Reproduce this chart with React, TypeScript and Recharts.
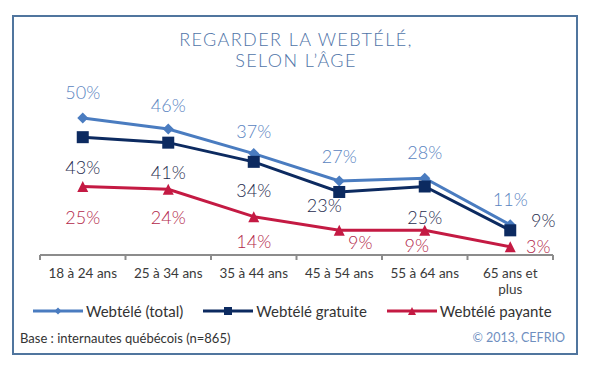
import { LineChart, Line, XAxis, YAxis, LabelList } from 'recharts'

const ageGroups = ['18 à 24 ans', '25 à 34 ans', '35 à 44 ans', '45 à 54 ans', '55 à 64 ans', '65 ans et\nplus']
const webteleTotal = [50, 46, 37, 27, 28, 11]
const webteleGratuite = [43, 41, 34, 23, 25, 9]
const webtelePayante = [25, 24, 14, 9, 9, 3]
const seriesNames = ['Webtélé (total)', 'Webtélé gratuite', 'Webtélé payante']

// where each value label sits relative to its point
const totalLabelShift = [[0, -26], [0, -24], [0, -23], [0, -25], [0, -26], [0, -26]]
const gratuiteLabelShift = [[0, 30], [0, 29], [0, 28], [-15, 13], [0, 30], [33, -10]]
const payanteLabelShift = [[0, 30], [0, 28], [0, 24], [21, 12], [-8, 15], [28, -1]]

const FONT = 'Lato, "Open Sans", sans-serif'
const colors = { total: '#4a7cc0', gratuite: '#0c2a60', payante: '#c41a43' }
const labelColors = { total: '#5a84bf', gratuite: '#1f2c4e', payante: '#b3284a' }

const PLOT_W = 513
const HALF_BAND = PLOT_W / ageGroups.length / 2

const data = ageGroups.map((age, i) => ({
  age,
  total: webteleTotal[i],
  gratuite: webteleGratuite[i],
  payante: webtelePayante[i],
}))

// recharts passes its own r to dot elements, so the marker sizes use other prop names
function Diamond({ cx, cy, fill, size = 11 }: any) {
  if (cx == null || cy == null) return null
  const h = size / 2
  return <path d={`M${cx},${cy - h}L${cx + h},${cy}L${cx},${cy + h}L${cx - h},${cy}Z`} fill={fill} />
}

function Square({ cx, cy, fill, size = 12 }: any) {
  if (cx == null || cy == null) return null
  return <rect x={cx - size / 2} y={cy - size / 2} width={size} height={size} fill={fill} />
}

function Triangle({ cx, cy, fill, size = 11 }: any) {
  if (cx == null || cy == null) return null
  const h = size / 2
  return <path d={`M${cx},${cy - h}L${cx + h},${cy + h}L${cx - h},${cy + h}Z`} fill={fill} />
}

function makeLabel(shift: number[][], color: string) {
  return (props: any) => {
    const { x, y, value, index } = props
    const [dx, dy] = shift[index] ?? [0, 0]
    return (
      <text
        x={x + dx}
        y={y + dy}
        textAnchor="middle"
        dominantBaseline="central"
        fill={color}
        fontSize={18}
        fontFamily={FONT}
        fontWeight={300}
      >
        {value}%
      </text>
    )
  }
}

function AgeTick(props: any) {
  const { x, y, payload, index, visibleTicksCount } = props
  const axisY = y - 5
  const lines = String(payload.value).split('\n')
  return (
    <g>
      <line x1={x - HALF_BAND} x2={x - HALF_BAND} y1={axisY} y2={y} stroke="#8c8c8c" strokeWidth={2} />
      {index === visibleTicksCount - 1 && (
        <line x1={x + HALF_BAND} x2={x + HALF_BAND} y1={axisY} y2={y} stroke="#8c8c8c" strokeWidth={2} />
      )}
      {lines.map((line, i) => (
        <text
          key={i}
          x={x}
          y={y + 18 + i * 16}
          textAnchor="middle"
          fill="#3a3a3a"
          fontSize={13.5}
          fontFamily={FONT}
        >
          {line}
        </text>
      ))}
    </g>
  )
}

function LegendIcon({ kind, color }: { kind: string; color: string }) {
  return (
    <svg width={50} height={14} style={{ display: 'block' }}>
      <line x1={0} x2={50} y1={7} y2={7} stroke={color} strokeWidth={3} />
      {kind === 'diamond' && <Diamond cx={25} cy={7} fill={color} size={7} />}
      {kind === 'square' && <Square cx={25} cy={7} fill={color} size={8} />}
      {kind === 'triangle' && <Triangle cx={25} cy={7} fill={color} size={8} />}
    </svg>
  )
}

export default function App() {
  const legendItems = [
    { name: seriesNames[0], kind: 'diamond', color: colors.total },
    { name: seriesNames[1], kind: 'square', color: colors.gratuite },
    { name: seriesNames[2], kind: 'triangle', color: colors.payante },
  ]

  return (
    <div style={{ position: 'absolute', left: 0, top: 0, width: 601, height: 371, background: '#fff', fontFamily: FONT }}>
      <div
        style={{
          position: 'absolute',
          left: 12,
          top: 15,
          width: 562,
          height: 336,
          border: '2px solid #50759e',
        }}
      />
      <div
        style={{
          position: 'absolute',
          left: 96,
          top: 29,
          width: 400,
          textAlign: 'center',
          color: '#4f74a8',
          fontSize: 18,
          lineHeight: '21px',
          fontWeight: 300,
          letterSpacing: 1.4,
        }}
      >
        REGARDER LA WEBTÉLÉ,
        <br />
        SELON L’ÂGE
      </div>

      <div style={{ position: 'absolute', left: 0, top: 0 }}>
        <LineChart width={601} height={371} data={data} margin={{ top: 118, right: 48, bottom: 86, left: 40 }}>
          <XAxis
            dataKey="age"
            height={30}
            padding={{ left: HALF_BAND, right: HALF_BAND }}
            axisLine={{ stroke: '#8c8c8c', strokeWidth: 2 }}
            tickLine={false}
            tickSize={5}
            tickMargin={0}
            interval={0}
            tick={<AgeTick />}
          />
          <YAxis hide domain={[0, 50]} />
          <Line
            dataKey="total"
            stroke={colors.total}
            strokeWidth={3}
            dot={<Diamond fill={colors.total} />}
            isAnimationActive={false}
          >
            <LabelList dataKey="total" content={makeLabel(totalLabelShift, labelColors.total)} />
          </Line>
          <Line
            dataKey="gratuite"
            stroke={colors.gratuite}
            strokeWidth={3}
            dot={<Square fill={colors.gratuite} />}
            isAnimationActive={false}
          >
            <LabelList dataKey="gratuite" content={makeLabel(gratuiteLabelShift, labelColors.gratuite)} />
          </Line>
          <Line
            dataKey="payante"
            stroke={colors.payante}
            strokeWidth={3}
            dot={<Triangle fill={colors.payante} />}
            isAnimationActive={false}
          >
            <LabelList dataKey="payante" content={makeLabel(payanteLabelShift, labelColors.payante)} />
          </Line>
        </LineChart>
      </div>

      <div
        style={{
          position: 'absolute',
          left: 33,
          top: 302,
          display: 'flex',
          alignItems: 'center',
          gap: 20,
          fontSize: 15,
          color: '#333',
        }}
      >
        {legendItems.map((item) => (
          <div key={item.name} style={{ display: 'flex', alignItems: 'center', gap: 3 }}>
            <LegendIcon kind={item.kind} color={item.color} />
            <span>{item.name}</span>
          </div>
        ))}
      </div>

      <div style={{ position: 'absolute', left: 20, top: 330, fontSize: 13, color: '#333' }}>
        Base : internautes québécois (n=865)
      </div>
      <div style={{ position: 'absolute', right: 36, top: 330, fontSize: 12.5, color: '#6f8fbf' }}>
        © 2013, CEFRIO
      </div>
    </div>
  )
}
